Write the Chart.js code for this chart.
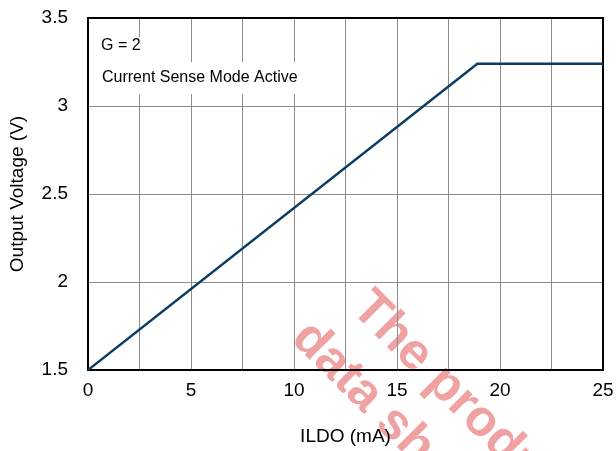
<!DOCTYPE html>
<html>
<head>
<meta charset="utf-8">
<script src="https://cdn.jsdelivr.net/npm/chart.js@4"></script>
<style>
  html, body { margin: 0; padding: 0; background: #fff; }
  #wrap { width: 616px; height: 451px; }
</style>
</head>
<body>
<div id="wrap"><canvas id="c" width="616" height="451"></canvas></div>
<script>
// ---- data ----
const currentMA = [0, 18.9, 25];
const outputV   = [1.5, 3.24, 3.24];
const xTicks = [0, 5, 10, 15, 20, 25];
const yTicks = [1.5, 2, 2.5, 3, 3.5];
const notes = ["G = 2", "Current Sense Mode Active"];
const watermark = ["The product", "data sheet"];

const FONT = "'Liberation Sans', Arial, sans-serif";

const overlay = {
  id: 'overlay',
  beforeDraw(chart) {
    const ctx = chart.ctx;
    ctx.save();
    ctx.fillStyle = 'rgba(220,30,30,0.42)';
    ctx.font = 'bold 51px ' + FONT;
    ctx.textBaseline = 'alphabetic';
    ctx.translate(350, 310);
    ctx.rotate(Math.PI / 4);
    ctx.fillText(watermark[0], 0, 0);
    ctx.restore();
    ctx.save();
    ctx.fillStyle = 'rgba(220,30,30,0.42)';
    ctx.font = 'bold 51px ' + FONT;
    ctx.translate(290, 340);
    ctx.rotate(Math.PI / 4);
    ctx.fillText(watermark[1], 0, 0);
    ctx.restore();
  },
  beforeDatasetsDraw(chart) {
    const ctx = chart.ctx, a = chart.chartArea;
    ctx.save();
    ctx.fillStyle = '#fff';
    ctx.fillRect(a.left + 8, 37, 54, 25);
    ctx.fillRect(a.left + 8, 62, 218, 32);
    ctx.fillStyle = '#000';
    ctx.font = '16px ' + FONT;
    ctx.textBaseline = 'middle';
    ctx.fillText(notes[0], a.left + 13, 46);
    ctx.fillText(notes[1], a.left + 14, 78);
    ctx.strokeStyle = '#000';
    ctx.lineWidth = 2;
    ctx.strokeRect(a.left, a.top, a.right - a.left, a.bottom - a.top);
    ctx.restore();
  }
};

new Chart(document.getElementById('c'), {
  type: 'line',
  data: {
    datasets: [{
      data: currentMA.map((x, i) => ({ x: x, y: outputV[i] })),
      borderColor: '#0d3d63',
      borderWidth: 2.5,
      pointRadius: 0,
      tension: 0,
      fill: false
    }]
  },
  options: {
    responsive: false,
    animation: false,
    layout: { padding: { top: 18, right: 13, left: 0, bottom: 0 } },
    plugins: { legend: { display: false }, tooltip: { enabled: false } },
    scales: {
      x: {
        type: 'linear',
        min: 0, max: 25,
        afterFit(s) { s.height = 81; s.paddingLeft = 0; s.paddingRight = 0; },
        afterBuildTicks(s) {
          const t = [];
          for (let v = 0; v <= 25; v += 2.5) t.push({ value: v });
          s.ticks = t;
        },
        grid: { color: '#8c8c8c', lineWidth: 1, drawTicks: false },
        border: { display: false },
        ticks: {
          padding: 9,
          color: '#000',
          font: { family: FONT, size: 19 },
          maxRotation: 0,
          autoSkip: false,
          callback: v => xTicks.includes(v) ? String(v) : ''
        },
        title: {
          display: true,
          text: 'ILDO (mA)',
          color: '#000',
          font: { family: FONT, size: 19 },
          padding: { top: 0, bottom: 3 }
        }
      },
      y: {
        type: 'linear',
        min: 1.5, max: 3.5,
        afterFit(s) { s.width = 88; s.paddingTop = 0; s.paddingBottom = 0; },
        afterBuildTicks(s) { s.ticks = yTicks.map(v => ({ value: v })); },
        grid: { color: '#8c8c8c', lineWidth: 1, drawTicks: false },
        border: { display: false },
        ticks: {
          padding: 20,
          color: '#000',
          font: { family: FONT, size: 19 },
          callback: v => String(v)
        },
        title: {
          display: true,
          text: 'Output Voltage (V)',
          color: '#000',
          font: { family: FONT, size: 19 },
          padding: { top: 6, bottom: 0 }
        }
      }
    }
  },
  plugins: [overlay]
});
</script>
</body>
</html>
